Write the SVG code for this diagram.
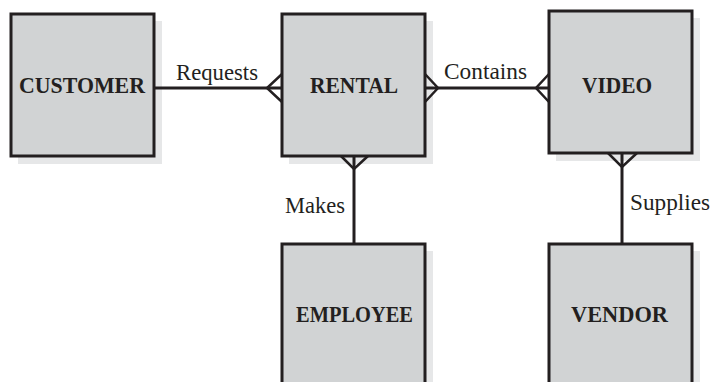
<svg xmlns="http://www.w3.org/2000/svg" width="711" height="382" viewBox="0 0 711 382">
<style>
.shadow{fill:#e6e7e8;stroke:none}
.box{fill:#d1d3d4;stroke:#231f20;stroke-width:3}
.name{font-family:"Liberation Serif",serif;font-weight:bold;font-size:22.5px;fill:#231f20;text-anchor:middle}
.lbl{font-family:"Liberation Serif",serif;font-size:23px;fill:#231f20}
.line{stroke:#231f20;stroke-width:3;fill:none}
.foot{stroke:#231f20;stroke-width:2.5;fill:none}
</style>
<rect width="711" height="382" fill="#ffffff"/>
<g id="customer">
<rect class="shadow" x="18" y="21" width="144" height="143"/>
<rect class="box" x="11" y="14" width="143" height="142"/>
<text class="name" x="82" y="93" textLength="126" lengthAdjust="spacingAndGlyphs">CUSTOMER</text>
</g>
<g id="rental">
<rect class="shadow" x="289" y="21" width="144" height="143"/>
<rect class="box" x="282" y="14" width="143" height="142"/>
<text class="name" x="354" y="93" textLength="88" lengthAdjust="spacingAndGlyphs">RENTAL</text>
</g>
<g id="video">
<rect class="shadow" x="556" y="18" width="144" height="143"/>
<rect class="box" x="549" y="11" width="143" height="142"/>
<text class="name" x="617" y="93" textLength="70" lengthAdjust="spacingAndGlyphs">VIDEO</text>
</g>
<g id="employee">
<rect class="shadow" x="289" y="251" width="144" height="143"/>
<rect class="box" x="282" y="244" width="143" height="142"/>
<text class="name" x="354.5" y="322" textLength="117" lengthAdjust="spacingAndGlyphs">EMPLOYEE</text>
</g>
<g id="vendor">
<rect class="shadow" x="556" y="251" width="144" height="143"/>
<rect class="box" x="549" y="244" width="143" height="142"/>
<text class="name" x="619.5" y="322" textLength="97" lengthAdjust="spacingAndGlyphs">VENDOR</text>
</g>
<g id="connectors">
<line class="line" x1="154" y1="88" x2="282" y2="88"/>
<polyline class="foot" points="282,74 267,88 282,102"/>
<line class="line" x1="425" y1="88" x2="549" y2="88"/>
<polyline class="foot" points="425,74 438,88 425,102"/>
<polyline class="foot" points="549,74 536,88 549,102"/>
<line class="line" x1="354" y1="156" x2="354" y2="244"/>
<polyline class="foot" points="341,156 354,169 368,156"/>
<line class="line" x1="622" y1="153" x2="622" y2="244"/>
<polyline class="foot" points="608,153 622,167 637,153"/>
<text class="lbl" x="176" y="80" textLength="82" lengthAdjust="spacingAndGlyphs">Requests</text>
<text class="lbl" x="444" y="79" textLength="83" lengthAdjust="spacingAndGlyphs">Contains</text>
<text class="lbl" x="285" y="213" textLength="60" lengthAdjust="spacingAndGlyphs">Makes</text>
<text class="lbl" x="630" y="210" textLength="80" lengthAdjust="spacingAndGlyphs">Supplies</text>
</g>
</svg>
